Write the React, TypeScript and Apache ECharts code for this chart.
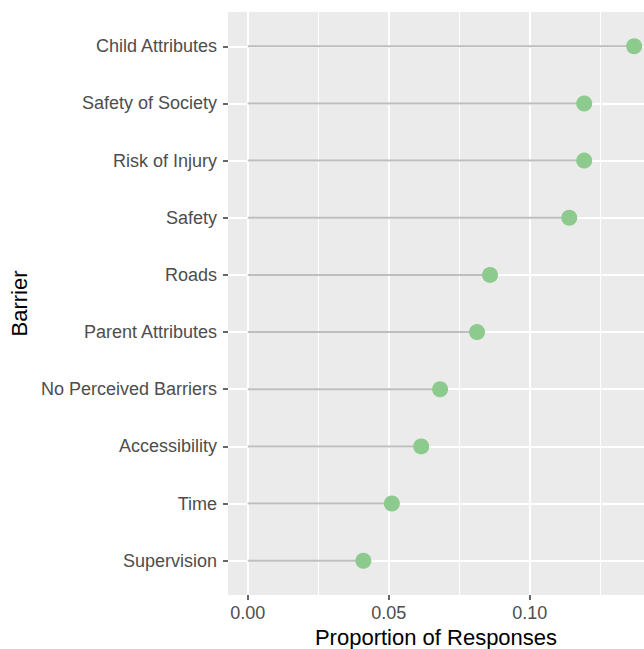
import React, { useEffect, useRef } from "react";
import * as echarts from "echarts";

const categories = [
  "Child Attributes",
  "Safety of Society",
  "Risk of Injury",
  "Safety",
  "Roads",
  "Parent Attributes",
  "No Perceived Barriers",
  "Accessibility",
  "Time",
  "Supervision",
];
const proportions = [0.137, 0.1193, 0.1193, 0.114, 0.0859, 0.0813, 0.0682, 0.0615, 0.0511, 0.041];
const xMajorTicks = [0, 0.05, 0.1];
const xMinorTicks = [0.025, 0.075, 0.125];

const FONT = "'Liberation Sans', Arial, Helvetica, sans-serif";

export default function App() {
  const ref = useRef<HTMLDivElement>(null);
  useEffect(() => {
    if (!ref.current) return;
    const chart = echarts.init(ref.current, undefined, { renderer: "svg" });
    const positions = categories.map((_, i) => i + 1);
    const pts = proportions.map((v, i) => [v, positions[i]]);
    chart.setOption({
      animation: false,
      backgroundColor: "#ffffff",
      grid: {
        left: 228,
        top: 12,
        right: 0,
        bottom: 54,
        show: true,
        backgroundColor: "#ebebeb",
        borderWidth: 0,
        containLabel: false,
        outerBoundsMode: "none",
      },
      xAxis: [
        {
          type: "value",
          min: -0.007,
          max: 0.1405,
          name: "Proportion of Responses",
          nameLocation: "middle",
          nameGap: 30,
          nameTextStyle: { color: "#000", fontSize: 22, fontFamily: FONT },
          axisLine: { show: false, onZero: false },
          axisTick: {
            show: true,
            customValues: xMajorTicks,
            length: 5,
            lineStyle: { color: "#333333", width: 1.5 },
          },
          axisLabel: {
            customValues: xMajorTicks,
            formatter: (v: number) => v.toFixed(2),
            color: "#4d4d4d",
            fontSize: 18,
            fontFamily: FONT,
            margin: 9,
          },
          splitLine: { show: true, lineStyle: { color: "#ffffff", width: 2 } },
        },
        {
          type: "value",
          min: -0.007,
          max: 0.1405,
          position: "bottom",
          axisLine: { show: false, onZero: false },
          axisTick: { show: false, customValues: xMinorTicks },
          axisLabel: { show: false, customValues: xMinorTicks },
          splitLine: { show: true, lineStyle: { color: "#ffffff", width: 1 } },
        },
      ],
      yAxis: {
        type: "value",
        min: 0.4,
        max: 10.6,
        inverse: true,
        name: "Barrier",
        nameLocation: "middle",
        nameGap: 194,
        nameRotate: 90,
        nameTextStyle: { color: "#000", fontSize: 22, fontFamily: FONT },
        axisLine: { show: false, onZero: false },
        axisTick: {
          show: true,
          customValues: positions,
          length: 5,
          lineStyle: { color: "#333333", width: 1.5 },
        },
        axisLabel: {
          customValues: positions,
          formatter: (v: number) => categories[Math.round(v) - 1] ?? "",
          color: "#4d4d4d",
          fontSize: 18,
          fontFamily: FONT,
          margin: 11,
        },
        splitLine: { show: true, lineStyle: { color: "#ffffff", width: 2 } },
      },
      series: [
        {
          type: "custom",
          xAxisIndex: 0,
          data: pts,
          renderItem: (params: any, api: any) => {
            const v = api.value(0);
            const y = api.value(1);
            const a = api.coord([0, y]);
            const b = api.coord([v, y]);
            return {
              type: "line",
              shape: { x1: a[0], y1: a[1], x2: b[0], y2: b[1] },
              style: { stroke: "#bebebe", lineWidth: 2 },
            };
          },
          silent: true,
          z: 2,
        },
        {
          type: "scatter",
          xAxisIndex: 0,
          data: pts,
          symbol: "circle",
          symbolSize: 16,
          itemStyle: { color: "#8dca8d", opacity: 1 },
          z: 3,
        },
      ],
    });
    return () => chart.dispose();
  }, []);
  return (
    <div
      ref={ref}
      style={{ position: "fixed", left: 0, top: 0, width: 644, height: 649 }}
    />
  );
}
